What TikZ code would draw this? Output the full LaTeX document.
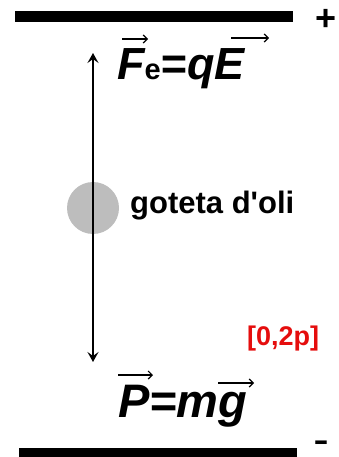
\documentclass[tikz,border=0pt]{standalone}
\usepackage{fontspec}
\setmainfont{Liberation Sans}
\usetikzlibrary{arrows.meta}
\definecolor{dropgray}{gray}{0.74}
\definecolor{markred}{rgb}{0.9,0.05,0.05}
\tikzset{
  plate/.style={fill=black,draw=none},
  txt/.style={inner sep=0pt,anchor=base west,font=\bfseries},
  forcearrow/.style={line width=1.4pt,{Stealth[length=10pt,width=11pt,inset=4pt]}-{Stealth[length=10pt,width=11pt,inset=4pt]}},
  vecarrow/.style={line width=1.2pt,-{Straight Barb[length=4pt,width=8pt,line width=1.2pt]}}
}
\begin{document}
\begin{tikzpicture}[x=1pt,y=-1pt]
\useasboundingbox (0,0) rectangle (339,457);
% plates
\fill[plate] (15,11) rectangle (293,22);
\fill[plate] (19,448) rectangle (297,460);
\node[txt,anchor=center,font=\bfseries\fontsize{36}{36}\selectfont] (plus) at (326,20) {+};
\node[txt,anchor=base,font=\bfseries\fontsize{30}{30}\selectfont] (minus) at (321,450.5) {\scalebox{1.5}[1]{-}};
% drop
\fill[dropgray] (93,208) circle (26);
\coordinate (top) at (93,53);
\coordinate (bot) at (93,362);
\draw[forcearrow] (top) -- (bot);
\node[txt,font=\bfseries\fontsize{31}{31}\selectfont] (drop) at (130,213) {goteta d\textquotesingle oli};
% forces
\node[txt,font=\bfseries\itshape\fontsize{45}{45}\selectfont] (fe) at (117,80)
  {F{\upshape\fontsize{29}{29}\selectfont e}=qE};
\node[txt,font=\bfseries\itshape\fontsize{47}{47}\selectfont] (pw) at (118,417) {P=mg};
\draw[vecarrow] (122,39) -- (148,39);
\draw[vecarrow] (231,38) -- (269,38);
\draw[vecarrow] (118,375) -- (153,375);
\draw[vecarrow] (218,383) -- (254,383);
\node[txt,text=markred,font=\bfseries\fontsize{27}{27}\selectfont] (mark) at (247,345) {[0,2p]};
\end{tikzpicture}
\end{document}
